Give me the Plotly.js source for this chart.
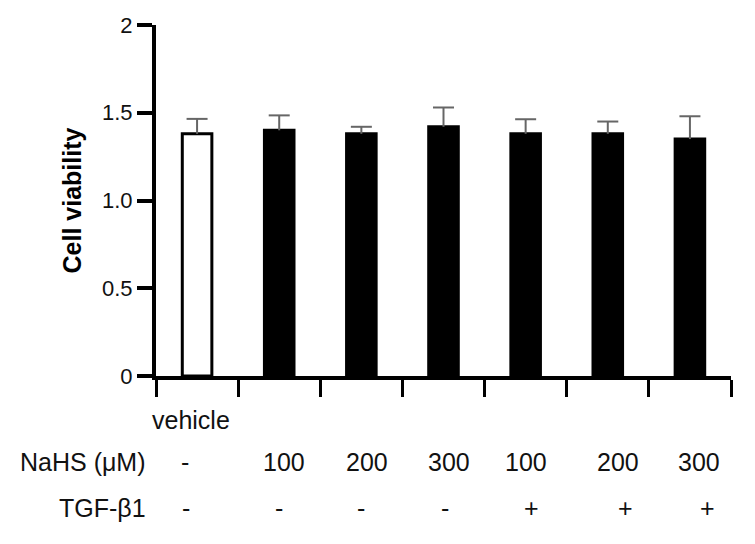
<!DOCTYPE html>
<html>
<head>
<meta charset="utf-8">
<script src="https://cdn.plot.ly/plotly-3.0.1.min.js"></script>
<style>
  body { margin: 0; background: #fff; }
  #chart { width: 755px; height: 544px; }
</style>
</head>
<body>
<div id="chart"></div>
<script>
// Cell viability per group (mean and upper error)
const groups = [0, 1, 2, 3, 4, 5, 6];
const viability = [1.38, 1.40, 1.38, 1.42, 1.38, 1.38, 1.35];
const viabilityErr = [0.085, 0.085, 0.04, 0.11, 0.083, 0.07, 0.13];
const vehicleLabels = ['vehicle', '', '', '', '', '', ''];
const nahsLabels = ['-', '100', '200', '300', '100', '200', '300'];
const tgfLabels = ['-', '-', '-', '-', '+', '+', '+'];
const yTicks = [0, 0.5, 1.0, 1.5, 2];
const yTickText = ['0', '0.5', '1.0', '1.5', '2'];

const barColors = groups.map(i => (i === 0 ? '#ffffff' : '#000000'));
const font = 'Liberation Sans, Arial, sans-serif';

// the table under the axis is hand placed in the original, nudge a little
const nahsShift = [-12, 5, 6, 5, 0, 10, 9];
const tgfShift = [-11, 0, 0, 1, 6, 18, 18];

const bars = {
    x: groups,
    y: viability,
    type: 'bar',
    width: 0.36,
    marker: { color: barColors, line: { color: '#000', width: 3 } },
    error_y: {
        type: 'data',
        symmetric: false,
        array: viabilityErr,
        arrayminus: viabilityErr.map(() => 0),
        color: '#666',
        thickness: 2,
        width: 0
    },
    hoverinfo: 'none'
};

// caps only on the top end of each error bar
const caps = {
    x: groups,
    y: viability.map((v, i) => v + viabilityErr[i]),
    type: 'scatter',
    mode: 'markers',
    marker: { symbol: 'line-ew', size: 15, line: { color: '#666', width: 2 } },
    hoverinfo: 'none'
};

const annotations = [];
const rows = [
    { labels: vehicleLabels, y: -0.125, name: '', shift: [-6, 0, 0, 0, 0, 0, 0] },
    { labels: nahsLabels, y: -0.245, name: 'NaHS (μM)', shift: nahsShift },
    { labels: tgfLabels, y: -0.376, name: 'TGF-β1', shift: tgfShift }
];
rows.forEach(row => {
    row.labels.forEach((txt, i) => {
        if (!txt) return;
        annotations.push({
            x: groups[i], xref: 'x', y: row.y, yref: 'paper',
            text: txt, showarrow: false, xanchor: 'center', yanchor: 'middle',
            xshift: row.shift[i],
            font: { family: font, size: 25, color: '#111' }
        });
    });
    if (row.name) {
        annotations.push({
            x: -0.014, xref: 'paper', y: row.y, yref: 'paper',
            text: row.name, showarrow: false, xanchor: 'right', yanchor: 'middle',
            font: { family: font, size: 25, color: '#111' }
        });
    }
});

const layout = {
    width: 755,
    height: 544,
    margin: { l: 156, r: 24, t: 25, b: 168 },
    paper_bgcolor: '#fff',
    plot_bgcolor: '#fff',
    showlegend: false,
    font: { family: font, size: 22, color: '#111' },
    xaxis: {
        range: [-0.5, 6.5],
        tickvals: [-0.5, 0.5, 1.5, 2.5, 3.5, 4.5, 5.5, 6.5],
        showticklabels: false,
        ticks: 'outside',
        ticklen: 17,
        tickwidth: 3,
        tickcolor: '#000',
        showline: true,
        linewidth: 4,
        linecolor: '#000',
        showgrid: false,
        zeroline: false,
        fixedrange: true
    },
    yaxis: {
        range: [0, 2],
        tickvals: yTicks,
        ticktext: yTickText,
        ticks: 'outside',
        ticklen: 15,
        tickwidth: 4,
        tickcolor: '#000',
        showline: true,
        linewidth: 4,
        linecolor: '#000',
        showgrid: false,
        zeroline: false,
        tickfont: { family: font, size: 22, color: '#111' },
        title: { text: '<b>Cell viability</b>', font: { family: font, size: 25, color: '#000' }, standoff: 14 },
        fixedrange: true
    },
    annotations: annotations
};

Plotly.newPlot('chart', [bars, caps], layout, { displayModeBar: false, staticPlot: true });
</script>
</body>
</html>
